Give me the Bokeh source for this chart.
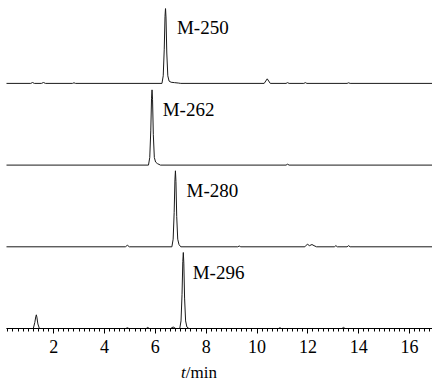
from bokeh.plotting import figure
from bokeh.models import Range1d, SingleIntervalTicker, ColumnDataSource, Div
from bokeh.layouts import column
from bokeh.core.properties import value
from bokeh.embed import file_html
from bokeh.resources import INLINE

# ---- data (retention time in min, relative intensity in %) ----
names = ["M-250", "M-262", "M-280", "M-296"]

t_250 = [0.1, 1.1, 1.17, 1.24, 1.52, 1.6, 1.68, 2.74, 2.8, 2.86,
         6.26, 6.31, 6.35, 6.38, 6.40, 6.42, 6.45, 6.49, 6.54, 6.62, 6.75, 6.9, 7.0,
         10.28, 10.4, 10.52, 11.14, 11.2, 11.26, 11.84, 11.9, 11.96,
         13.54, 13.6, 13.66, 17.0]
i_250 = [0, 0, 1.2, 0, 0, 1.2, 0, 0, 0.8, 0,
         0, 10, 45, 88, 99, 86, 40, 10, 3, 1.5, 1, 0.5, 0,
         0, 6, 0, 0, 1, 0, 0, 1, 0,
         0, 0.8, 0, 0]

t_262 = [0.1, 5.73, 5.78, 5.82, 5.85, 5.87, 5.89, 5.92, 5.96, 6.01, 6.08, 6.2,
         11.14, 11.2, 11.26, 17.0]
i_262 = [0, 0, 10, 45, 88, 99, 86, 40, 10, 4, 2, 0,
         0, 1.2, 0, 0]

t_280 = [0.1, 4.82, 4.9, 4.98, 6.65, 6.7, 6.74, 6.77, 6.79, 6.81, 6.84, 6.88, 6.93, 7.0,
         9.24, 9.3, 9.36, 11.88, 11.98, 12.06, 12.16, 12.24, 12.34,
         13.04, 13.1, 13.16, 13.54, 13.6, 13.66, 17.0]
i_280 = [0, 0, 2, 0, 0, 10, 45, 88, 100, 86, 40, 10, 3, 0,
         0, 1, 0, 0, 3.5, 1.5, 3, 1.5, 0,
         0, 1.5, 0, 0, 1.5, 0, 0]

t_296 = [0.1, 1.2, 1.26, 1.3, 1.32, 1.34, 1.38, 1.44, 4.84, 4.9, 4.96, 5.64, 5.7, 5.76,
         6.6, 6.7, 6.8, 6.96, 7.01, 7.05, 7.08, 7.10, 7.12, 7.15, 7.19, 7.24, 7.32,
         10.84, 10.9, 10.96, 13.34, 13.4, 13.46, 17.0]
i_296 = [0, 0, 8, 16, 18, 15, 6, 0, 0, 1, 0, 0, 1.5, 0,
         0, 2, 0, 0, 10, 45, 88, 100, 86, 40, 10, 2, 0,
         0, 1, 0, 0, 1.5, 0, 0]

label_x = [6.85, 6.29, 7.23, 7.47]
x_ticks_interval = 2

times = [t_250, t_262, t_280, t_296]
intens = [i_250, i_262, i_280, i_296]

# ---- layout ----
SCALE = 0.76        # px per % intensity
SPACING = 81.7      # vertical spacing between traces (px)
SERIF = "Liberation Serif"

p = figure(width=432, height=364, output_backend="svg", toolbar_location=None,
           x_range=Range1d(0.146, 16.90), y_range=Range1d(0, 320),
           y_axis_location=None, min_border_left=6, min_border_right=0,
           min_border_top=8, min_border_bottom=36)
p.outline_line_color = None
p.xgrid.visible = False
p.ygrid.visible = False
p.background_fill_color = "white"

for k, (tt, ii) in enumerate(zip(times, intens)):
    off = (3 - k) * SPACING
    ys = [off + v * SCALE for v in ii]
    p.line(tt, ys, line_color="#1a1a1a", line_width=1)

lab_y = [(3 - k) * SPACING + 56 for k in range(4)]
src = ColumnDataSource(dict(x=label_x, y=lab_y, text=names))
p.text(x="x", y="y", text="text", source=src, text_font=value(SERIF),
       text_font_size="19px", text_color="black", text_align="left",
       text_baseline="alphabetic")

ax = p.xaxis[0]
ax.ticker = SingleIntervalTicker(interval=x_ticks_interval, num_minor_ticks=10)
ax.axis_line_color = "black"
ax.axis_line_width = 1
ax.major_tick_in = 0
ax.major_tick_out = 5
ax.minor_tick_in = 0
ax.minor_tick_out = 3
ax.major_tick_line_color = "black"
ax.minor_tick_line_color = "black"
ax.major_label_text_font = SERIF
ax.major_label_text_font_size = "18px"
ax.major_label_text_color = "black"
ax.major_label_standoff = 6

xlabel = Div(text="<i>t</i>/min", width=432, height=22, margin=0,
             styles={"font-family": "'Liberation Serif', serif", "font-size": "17px",
                     "line-height": "17px", "padding-left": "181px", "color": "black",
                     "box-sizing": "border-box"})

layout = column(p, xlabel, spacing=0)

open("out.html", "w").write(file_html(layout, INLINE))
